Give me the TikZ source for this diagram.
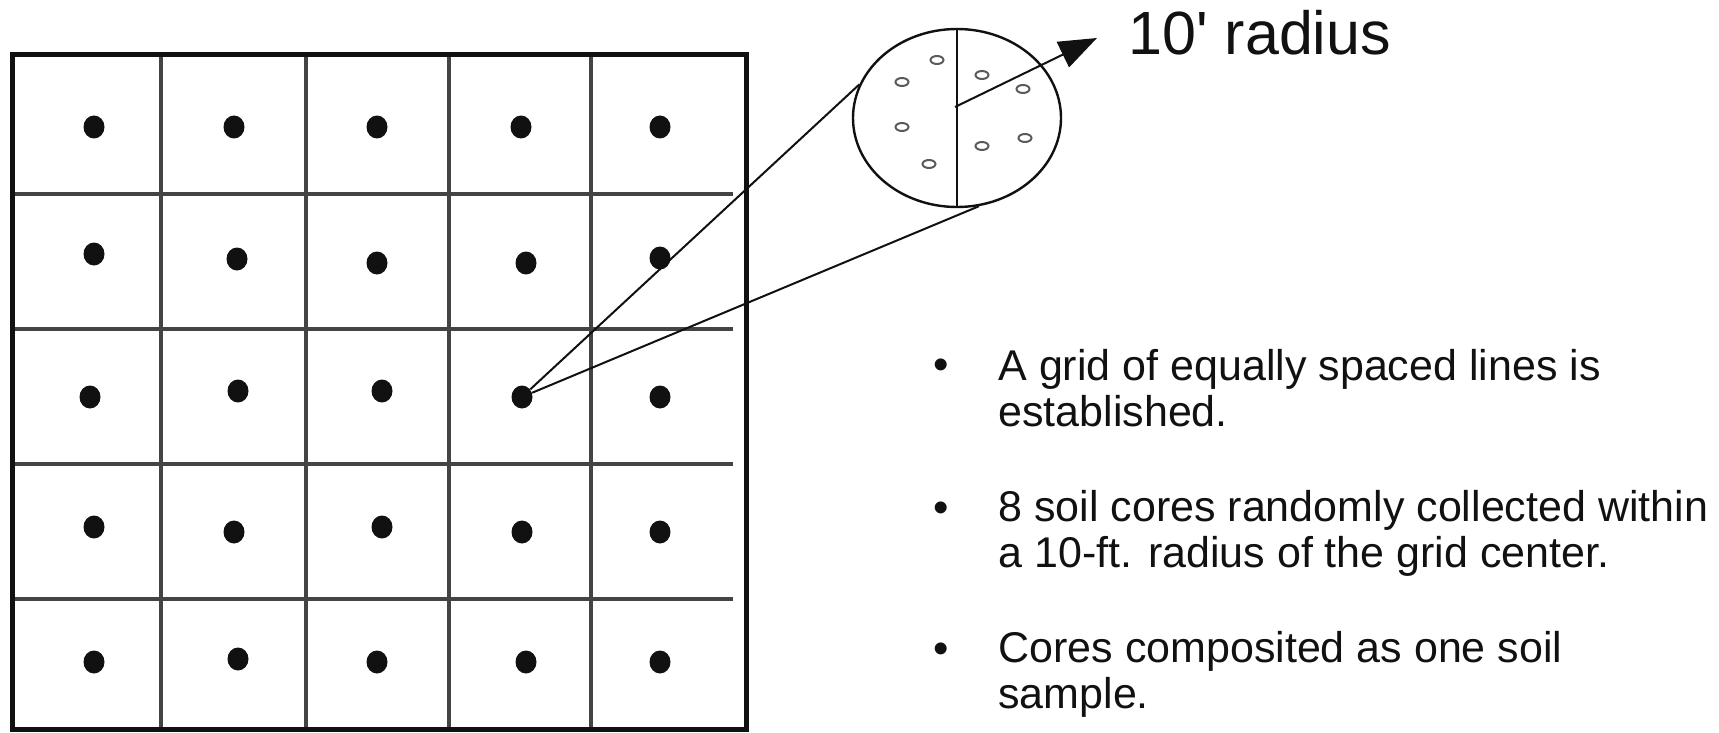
\documentclass[tikz,border=0pt]{standalone}
\usepackage{fontspec}
\setmainfont{Liberation Sans}
\definecolor{sueloNegro}{HTML}{111111}
\definecolor{sueloGris}{HTML}{444444}
\definecolor{sueloNucleo}{HTML}{5A5A5A}
\usetikzlibrary{
	arrows.meta,
	positioning,
	shapes.geometric
}
\tikzset{
	borde/.style={
		line width=2.5pt,
		sueloNegro
	},
	linea/.style={
		line width=1.6pt,
		sueloGris
	},
	punto/.style={
		ellipse,
		fill=sueloNegro,
		inner sep=0pt,
		minimum width=10.5pt,
		minimum height=11.5pt
	},
	nucleo/.style={
		ellipse,
		draw=sueloNucleo,
		line width=1pt,
		inner sep=0pt,
		minimum width=6.5pt,
		minimum height=4pt
	},
	parcela/.style={
		ellipse,
		draw=sueloNegro,
		line width=1.2pt,
		inner sep=0pt,
		minimum width=104pt,
		minimum height=89pt
	},
	enlace/.style={
		line width=1pt,
		sueloNegro
	},
	flecha/.style={
		-{Triangle[length=19pt,width=14pt]},
		line width=1pt,
		sueloNegro
	},
	vineta/.style={
		inner sep=0pt,
		font=\fontsize{22pt}{22pt}\selectfont,
		text=sueloNegro
	},
	texto/.style={
		inner sep=0pt,
		align=left,
		anchor=base west,
		font=\fontsize{21.5pt}{23pt}\selectfont,
		text=sueloNegro
	},
	rotulo/.style={
		inner sep=0pt,
		anchor=base west,
		font=\fontsize{30.5pt}{31pt}\selectfont,
		text=sueloNegro
	}
}
\begin{document}
\begin{tikzpicture}[x=0.5pt,y=-0.5pt]
		\useasboundingbox (0,0) rectangle (1719,733);
		\foreach \x in {161,306,449,591}
			\draw[linea] (\x,55) -- (\x,729);
		\foreach \y in {194,329,464,599}
			\draw[linea] (12,\y) -- (733,\y);
		\draw[borde] (12,55) rectangle (746,729);
		\foreach \x/\y [count=\i] in {94/127,234/127,377/127,521/127,660/127,
			94/254,237/259,377/263,526/263,660/258,
			90/397,238/391,382/391,522/397,660/397,
			94/527,234/532,382/527,522/532,660/532,
			94/662,238/659,377/662,526/662,660/662}
			\node[punto] (punto\i) at (\x,\y) {};
		\node[parcela] (parcela) at (957,118) {};
		\draw[enlace] (parcela.north) -- (parcela.south);
		\foreach \x/\y [count=\i] in {937/60,902/82,902/127,929/164,
			982/75,1023/89,982/146,1025/138}
			\node[nucleo] (nucleo\i) at (\x,\y) {};
		\coordinate (eje) at (955,107);
		\coordinate (punta) at (1097,38);
		\draw[flecha] (eje) -- (punta);
		\node[rotulo] (radio) at (1128,55) {10\textquotesingle{} radius};
		\draw[enlace] (punto14) -- (parcela.161);
		\draw[enlace] (punto14) -- (parcela.284);
		\node[vineta] (vineta1) at (941,369) {\textbullet};
		\node[vineta] (vineta2) at (941,512) {\textbullet};
		\node[vineta] (vineta3) at (941,653) {\textbullet};
		\node[texto] (item1) at (998,426) {A grid of equally spaced lines is\\established.};
		\node[texto] (item2) at (998,567) {8 soil cores randomly collected within\\a 10-ft. radius of the grid center.};
		\node[texto] (item3) at (998,708) {Cores composited as one soil\\sample.};
	\end{tikzpicture}
\end{document}
